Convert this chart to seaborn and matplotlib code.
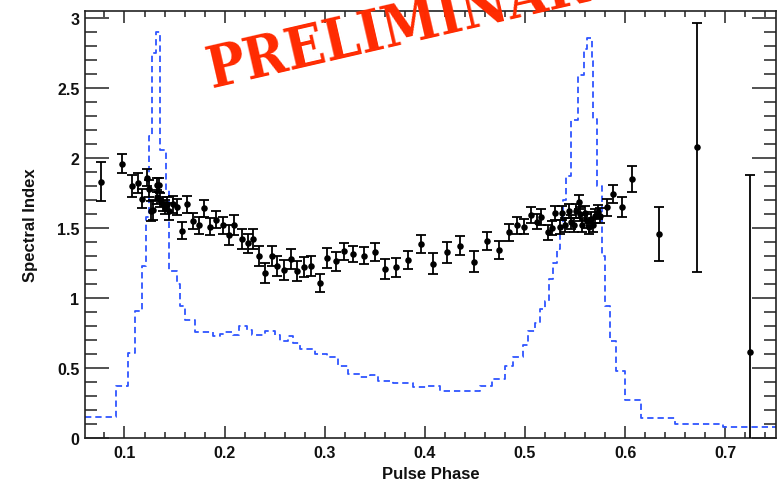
import numpy as np
import pandas as pd
import matplotlib
matplotlib.use("Agg")
import matplotlib.pyplot as plt
from matplotlib.ticker import MultipleLocator, FuncFormatter
import seaborn as sns

# Pulse profile drawn as a step histogram over variable-width phase bins
profile_edges = [0.0606, 0.0915, 0.1035, 0.1105, 0.1170, 0.1210, 0.1248, 0.1275,
                 0.1314, 0.1359, 0.1414, 0.1449, 0.1524, 0.1554, 0.1604, 0.1704,
                 0.1887, 0.1953, 0.2003, 0.2086, 0.2146, 0.2220, 0.2270, 0.2403,
                 0.2502, 0.2552, 0.2635, 0.2685, 0.2752, 0.2902, 0.3019, 0.3134,
                 0.3234, 0.3351, 0.3451, 0.3534, 0.3683, 0.3883, 0.4033, 0.4150,
                 0.4549, 0.4666, 0.4799, 0.4878, 0.4975, 0.5028, 0.5098, 0.5148,
                 0.5198, 0.5238, 0.5278, 0.5318, 0.5348, 0.5378, 0.5414, 0.5464,
                 0.5530, 0.5587, 0.5617, 0.5664, 0.5680, 0.5714, 0.5764, 0.5797,
                 0.5847, 0.5904, 0.5997, 0.6163, 0.6496, 0.6975, 0.7507]
profile_height = [0.15, 0.374, 0.607, 0.907, 1.23, 1.58, 2.16, 2.75, 2.90, 2.06,
                  1.77, 1.195, 1.10, 0.94, 0.845, 0.76, 0.73, 0.745, 0.76, 0.735,
                  0.80, 0.77, 0.735, 0.766, 0.735, 0.695, 0.73, 0.68, 0.636, 0.60,
                  0.58, 0.516, 0.457, 0.434, 0.45, 0.41, 0.393, 0.364, 0.374, 0.336,
                  0.374, 0.42, 0.516, 0.578, 0.664, 0.766, 0.82, 0.92, 0.98, 1.136,
                  1.25, 1.35, 1.5, 1.7, 1.875, 2.27, 2.59, 2.78, 2.855, 2.69,
                  2.28, 1.8, 1.30, 0.945, 0.695, 0.48, 0.274, 0.14, 0.10, 0.076]

# Fitted spectral index per phase bin, with 1-sigma errors
phase = [0.0762, 0.0978, 0.1078, 0.1138, 0.1178, 0.1222, 0.1242, 0.1262, 0.1288,
         0.1320, 0.1328, 0.1347, 0.1354, 0.1381, 0.1404, 0.1427, 0.1447, 0.1481,
         0.1527, 0.1571, 0.1621, 0.1687, 0.1744, 0.1797, 0.1854, 0.1913, 0.1986,
         0.2043, 0.2096, 0.2176, 0.2230, 0.2286, 0.2346, 0.2403, 0.2476, 0.2526,
         0.2592, 0.2662, 0.2725, 0.2792, 0.2865, 0.2952, 0.3025, 0.3111, 0.3194,
         0.3284, 0.3388, 0.3501, 0.3601, 0.3710, 0.3827, 0.3960, 0.4083, 0.4216,
         0.4349, 0.4492, 0.4622, 0.4736, 0.4836, 0.4922, 0.4988, 0.5063, 0.5123,
         0.5163, 0.5231, 0.5265, 0.5298, 0.5348, 0.5371, 0.5398, 0.5441, 0.5458,
         0.5488, 0.5514, 0.5538, 0.5548, 0.5574, 0.5597, 0.5621, 0.5641, 0.5654,
         0.5674, 0.5698, 0.5724, 0.5747, 0.5814, 0.5874, 0.5964, 0.6073, 0.6336,
         0.6722, 0.7245]
spectral_index = [1.83, 1.96, 1.80, 1.82, 1.71, 1.86, 1.78, 1.62, 1.63,
                  1.81, 1.72, 1.81, 1.70, 1.67, 1.65, 1.67, 1.62, 1.67,
                  1.65, 1.48, 1.67, 1.55, 1.52, 1.64, 1.51, 1.56, 1.52,
                  1.45, 1.52, 1.42, 1.39, 1.42, 1.30, 1.18, 1.30, 1.23,
                  1.20, 1.28, 1.195, 1.22, 1.23, 1.107, 1.284, 1.262, 1.333,
                  1.314, 1.302, 1.326, 1.207, 1.219, 1.271, 1.386, 1.243, 1.326,
                  1.374, 1.26, 1.405, 1.345, 1.469, 1.52, 1.51, 1.593, 1.545,
                  1.58, 1.469, 1.498, 1.605, 1.51, 1.605, 1.52, 1.62, 1.545,
                  1.52, 1.624, 1.683, 1.60, 1.52, 1.61, 1.55, 1.505, 1.564,
                  1.52, 1.584, 1.612, 1.588, 1.648, 1.743, 1.652, 1.85, 1.457,
                  2.076, 0.612]
index_err = [0.14, 0.07, 0.08, 0.07, 0.07, 0.06, 0.06, 0.07, 0.07,
             0.05, 0.05, 0.05, 0.05, 0.05, 0.05, 0.05, 0.06, 0.06,
             0.06, 0.06, 0.06, 0.06, 0.06, 0.06, 0.06, 0.06, 0.06,
             0.07, 0.07, 0.07, 0.07, 0.07, 0.07, 0.07, 0.07, 0.07,
             0.07, 0.07, 0.07, 0.07, 0.07, 0.065, 0.07, 0.07, 0.06,
             0.06, 0.06, 0.065, 0.07, 0.07, 0.065, 0.062, 0.075, 0.075,
             0.07, 0.076, 0.065, 0.065, 0.06, 0.06, 0.055, 0.055, 0.055,
             0.055, 0.055, 0.05, 0.05, 0.05, 0.05, 0.05, 0.05, 0.05,
             0.05, 0.05, 0.05, 0.05, 0.05, 0.05, 0.05, 0.05, 0.05,
             0.05, 0.05, 0.05, 0.055, 0.06, 0.065, 0.07, 0.09, 0.19,
             0.89, 1.27]

x_ticks = [0.1, 0.2, 0.3, 0.4, 0.5, 0.6, 0.7]
y_ticks = [0, 0.5, 1, 1.5, 2, 2.5, 3]

sns.set_theme(style="ticks")
plt.rcParams["font.family"] = ["Liberation Sans", "DejaVu Sans"]

profile_df = pd.DataFrame({"phase": profile_edges,
                           "level": profile_height + [profile_height[-1]]})
index_df = pd.DataFrame({"phase": phase, "index": spectral_index, "err": index_err})

fig = plt.figure(figsize=(7.78, 4.81), dpi=100)
ax = fig.add_axes([0.1093, 0.0873, 0.8882, 0.8877])

sns.lineplot(data=profile_df, x="phase", y="level", drawstyle="steps-post",
             estimator=None, sort=False, color="#2f55ff", linewidth=1.3,
             linestyle=(0, (3.5, 2.2)), ax=ax, zorder=2)

ax.errorbar(index_df["phase"], index_df["index"], yerr=index_df["err"],
            fmt="none", ecolor="black", elinewidth=1.3, capsize=3.3,
            capthick=1.3, zorder=3)
sns.scatterplot(data=index_df, x="phase", y="index", color="black", s=22,
                linewidth=0, marker="o", ax=ax, zorder=4)

ax.set_xlim(0.0606, 0.7507)
ax.set_ylim(0, 3.05)

ax.xaxis.set_major_locator(plt.FixedLocator(x_ticks))
ax.yaxis.set_major_locator(plt.FixedLocator(y_ticks))
ax.xaxis.set_minor_locator(MultipleLocator(0.02))
ax.yaxis.set_minor_locator(MultipleLocator(0.1))
fmt = FuncFormatter(lambda v, p: f"{v:g}")
ax.xaxis.set_major_formatter(fmt)
ax.yaxis.set_major_formatter(fmt)

ax.tick_params(axis="both", which="both", direction="in", top=True, right=True,
               color="#222222", width=1.1)
ax.tick_params(axis="x", which="major", length=8.6, pad=5, labelsize=11.5)
ax.tick_params(axis="x", which="minor", length=4.5)
ax.tick_params(axis="y", which="major", length=17, pad=4, labelsize=11.5)
ax.tick_params(axis="y", which="minor", length=8.6)
for lab in ax.get_xticklabels() + ax.get_yticklabels():
    lab.set_fontweight("bold")
    lab.set_color("#111111")

for side in ax.spines.values():
    side.set_linewidth(1.2)
    side.set_color("#222222")

ax.set_xlabel("Pulse Phase", fontsize=12, fontweight="bold", color="#111111",
              labelpad=4)
ax.set_ylabel("Spectral Index", fontsize=12, fontweight="bold", color="#111111",
              labelpad=14)

fig.text(0.2725, 0.817, "PRELIMINARY", rotation=13, rotation_mode="anchor",
         ha="left", va="baseline", color="#ff2a00", fontsize=41,
         fontweight="bold", fontstretch="condensed", family="DejaVu Serif",
         zorder=10)

fig.savefig("out.png", dpi=100)
